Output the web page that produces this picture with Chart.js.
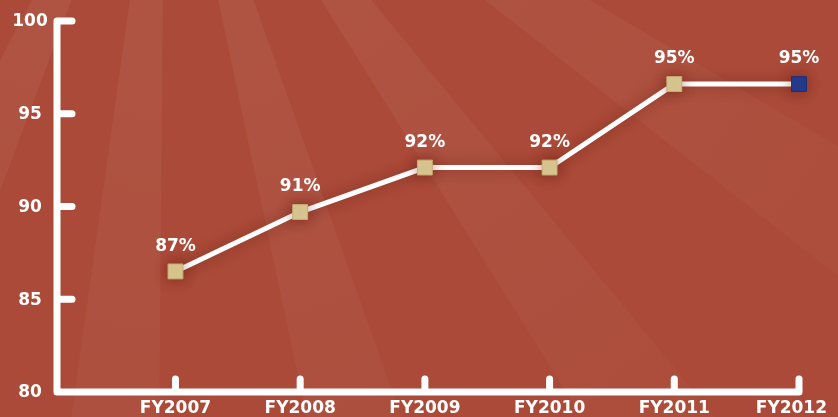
<!DOCTYPE html>
<html><head><meta charset="utf-8">
<script src="https://cdn.jsdelivr.net/npm/chart.js@4/dist/chart.umd.min.js"></script>
<style>html,body{margin:0;padding:0;background:#ab4a38;}#wrap{width:838px;height:417px;}</style>
</head><body><div id="wrap"><canvas id="c" width="838" height="417"></canvas></div>
<script>
const categories = ['FY2007', 'FY2008', 'FY2009', 'FY2010', 'FY2011', 'FY2012'];
const values = [86.5, 89.7, 92.1, 92.1, 96.6, 96.6];
const valueLabels = ['87%', '91%', '92%', '92%', '95%', '95%'];
const yTicks = [80, 85, 90, 95, 100];
const pointColors = ['#dccb94', '#dccb94', '#dccb94', '#dccb94', '#dccb94', '#243c90'];
const pointBorders = ['#c7ae74', '#c7ae74', '#c7ae74', '#c7ae74', '#c7ae74', '#1c2f78'];

const FONT = 'bold 17px "DejaVu Sans", sans-serif';

const bgPlugin = {
  id: 'bg',
  beforeDraw(chart) {
    const ctx = chart.ctx, W = chart.width, H = chart.height;
    ctx.save();
    ctx.fillStyle = '#ab4a38';
    ctx.fillRect(0, 0, W, H);
    const cx = 165, cy = -250, R = 2000;
    const g = ctx.createRadialGradient(cx, cy, 0, cx, cy, 800);
    g.addColorStop(0, 'rgba(255,255,255,0.07)');
    g.addColorStop(0.3, 'rgba(255,255,255,0.055)');
    g.addColorStop(1, 'rgba(255,255,255,0.025)');
    ctx.fillStyle = g;
    for (let k = -3; k <= 5; k++) {
      const a0 = (-8 + 20 * k) * Math.PI / 180;
      const a1 = a0 + 7.5 * Math.PI / 180;
      ctx.beginPath();
      ctx.moveTo(cx, cy);
      ctx.lineTo(cx + R * Math.sin(a0), cy + R * Math.cos(a0));
      ctx.lineTo(cx + R * Math.sin(a1), cy + R * Math.cos(a1));
      ctx.closePath();
      ctx.fill();
    }
    ctx.restore();
  },
  beforeDatasetsDraw(chart) {
    const ctx = chart.ctx, a = chart.chartArea;
    const xs = chart.scales.x, ys = chart.scales.y;
    const L = a.left, B = a.bottom;
    ctx.save();
    ctx.strokeStyle = '#ffffff';
    ctx.lineWidth = 7;
    ctx.lineCap = 'round';
    ctx.lineJoin = 'round';
    ctx.beginPath();
    ctx.moveTo(L, ys.getPixelForValue(yTicks[yTicks.length - 1]));
    ctx.lineTo(L, B);
    ctx.lineTo(xs.getPixelForValue(categories.length), B);
    ctx.stroke();
    yTicks.forEach(v => {
      if (v === yTicks[0]) return;
      const py = ys.getPixelForValue(v);
      ctx.beginPath(); ctx.moveTo(L + 2, py); ctx.lineTo(L + 15, py); ctx.stroke();
    });
    categories.forEach((c, i) => {
      const px = xs.getPixelForValue(i + 1);
      ctx.beginPath(); ctx.moveTo(px, B - 2); ctx.lineTo(px, B - 13); ctx.stroke();
    });
    ctx.restore();
    ctx.save();
    ctx.shadowColor = 'rgba(80,15,5,0.45)';
    ctx.shadowBlur = 14;
  },
  afterDatasetsDraw(chart) {
    chart.ctx.restore();
  },
  afterDraw(chart) {
    const ctx = chart.ctx, W = chart.width;
    const xs = chart.scales.x, ys = chart.scales.y;
    ctx.save();
    ctx.fillStyle = '#ffffff';
    ctx.font = FONT;
    ctx.textAlign = 'center';
    ctx.textBaseline = 'middle';
    yTicks.forEach(v => ctx.fillText(String(v), 30, ys.getPixelForValue(v) + 1));
    categories.forEach((c, i) => {
      const w = ctx.measureText(c).width;
      const px = Math.min(xs.getPixelForValue(i + 1), W - 11 - w / 2);
      ctx.fillText(c, px, 409);
    });
    const meta = chart.getDatasetMeta(0);
    meta.data.forEach((pt, i) => ctx.fillText(valueLabels[i], pt.x, pt.y - 25));
    ctx.restore();
  }
};

new Chart(document.getElementById('c'), {
  type: 'line',
  data: {
    datasets: [{
      data: categories.map((c, i) => ({ x: i + 1, y: values[i] })),
      borderColor: '#ffffff',
      borderWidth: 5,
      pointStyle: 'rect',
      pointRadius: 10.5,
      pointHoverRadius: 10.5,
      pointBackgroundColor: pointColors,
      pointBorderColor: pointBorders,
      pointBorderWidth: 1,
      tension: 0,
      fill: false,
      clip: false
    }]
  },
  options: {
    responsive: false,
    animation: false,
    events: [],
    layout: { padding: { left: 57, right: 39, top: 21, bottom: 25 } },
    plugins: { legend: { display: false }, tooltip: { enabled: false } },
    scales: {
      x: { type: 'linear', min: 0.05, max: 6, display: false },
      y: { min: 80, max: 100, display: false }
    }
  },
  plugins: [bgPlugin]
});
</script>
</body></html>
